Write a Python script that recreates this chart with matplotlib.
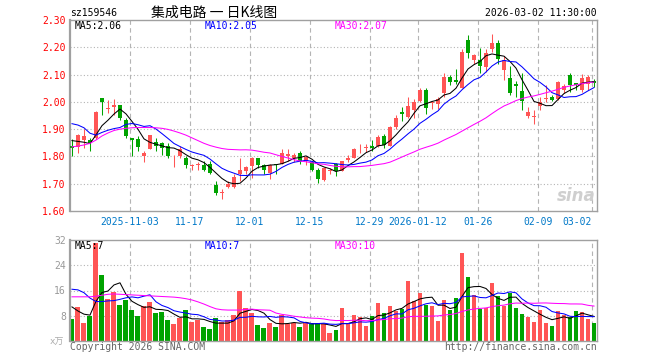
import numpy as np
import pandas as pd
import matplotlib
matplotlib.use('Agg')
import matplotlib.pyplot as plt

# date axis labels and the bar index each one sits on
date_labels = ['2025-11-03', '11-17', '12-01', '12-15', '12-29',
               '2026-01-12', '01-26', '02-09', '03-02']
date_idx = [10, 20, 30, 40, 50, 58, 68, 78, 87]

# daily OHLC (88 bars, 2025-10-20 .. 2026-03-02)
opens = [1.838, 1.834, 1.862, 1.860, 1.868, 2.015, 1.975, 1.982, 1.987, 1.932,
         1.868, 1.865, 1.800, 1.828, 1.852, 1.848, 1.838, 1.800, 1.801, 1.795,
         1.766, 1.768, 1.768, 1.773, 1.694, 1.665, 1.688, 1.688, 1.734, 1.746,
         1.765, 1.793, 1.768, 1.740, 1.771, 1.774, 1.800, 1.795, 1.813, 1.783,
         1.780, 1.749, 1.712, 1.748, 1.771, 1.748, 1.786, 1.795, 1.830, 1.831,
         1.837, 1.837, 1.876, 1.840, 1.908, 1.962, 1.945, 1.969, 2.004, 2.045,
         1.994, 1.991, 2.034, 2.092, 2.080, 2.049, 2.227, 2.153, 2.153, 2.126,
         2.193, 2.217, 2.117, 2.088, 2.065, 2.040, 1.947, 1.945, 1.984, 2.010,
         2.018, 2.009, 2.043, 2.098, 2.068, 2.043, 2.067, 2.075]
highs = [1.865, 1.883, 1.900, 1.868, 1.965, 2.015, 2.008, 2.012, 1.990, 1.941,
         1.868, 1.874, 1.820, 1.880, 1.868, 1.854, 1.850, 1.804, 1.838, 1.800,
         1.773, 1.780, 1.783, 1.783, 1.710, 1.680, 1.710, 1.737, 1.795, 1.765,
         1.797, 1.795, 1.771, 1.771, 1.773, 1.829, 1.828, 1.813, 1.820, 1.800,
         1.783, 1.756, 1.761, 1.758, 1.775, 1.785, 1.806, 1.830, 1.844, 1.846,
         1.861, 1.880, 1.881, 1.910, 1.951, 1.982, 2.018, 2.009, 2.049, 2.049,
         2.004, 2.016, 2.107, 2.098, 2.119, 2.193, 2.245, 2.175, 2.196, 2.193,
         2.249, 2.225, 2.168, 2.131, 2.077, 2.104, 1.982, 1.969, 2.018, 2.061,
         2.024, 2.076, 2.067, 2.104, 2.070, 2.102, 2.098, 2.082]
lows = [1.800, 1.813, 1.830, 1.820, 1.865, 1.951, 1.960, 1.951, 1.935, 1.868,
        1.800, 1.820, 1.780, 1.826, 1.820, 1.807, 1.795, 1.761, 1.795, 1.758,
        1.752, 1.752, 1.746, 1.737, 1.658, 1.643, 1.685, 1.685, 1.710, 1.734,
        1.722, 1.758, 1.737, 1.716, 1.734, 1.773, 1.783, 1.780, 1.773, 1.770,
        1.746, 1.704, 1.709, 1.737, 1.730, 1.746, 1.780, 1.793, 1.812, 1.816,
        1.820, 1.834, 1.832, 1.839, 1.902, 1.930, 1.942, 1.942, 2.000, 1.957,
        1.975, 1.972, 2.018, 2.061, 2.067, 2.049, 2.160, 2.139, 2.104, 2.110,
        2.184, 2.139, 2.080, 2.025, 2.018, 1.969, 1.942, 1.918, 1.969, 2.000,
        2.003, 2.006, 2.031, 2.037, 2.043, 2.037, 2.043, 2.055]
closes = [1.830, 1.878, 1.874, 1.850, 1.962, 2.000, 1.978, 1.987, 1.941, 1.874,
          1.862, 1.834, 1.811, 1.877, 1.840, 1.832, 1.801, 1.803, 1.828, 1.768,
          1.768, 1.771, 1.752, 1.740, 1.665, 1.668, 1.700, 1.726, 1.749, 1.761,
          1.793, 1.768, 1.752, 1.768, 1.767, 1.813, 1.810, 1.807, 1.783, 1.797,
          1.752, 1.716, 1.759, 1.750, 1.746, 1.782, 1.795, 1.826, 1.832, 1.833,
          1.832, 1.871, 1.842, 1.908, 1.942, 1.956, 1.985, 2.000, 2.045, 1.979,
          1.998, 2.012, 2.092, 2.074, 2.074, 2.184, 2.178, 2.172, 2.131, 2.180,
          2.217, 2.156, 2.153, 2.034, 2.058, 2.004, 1.963, 1.949, 2.000, 2.014,
          2.006, 2.074, 2.058, 2.061, 2.063, 2.086, 2.092, 2.070]
# volume in 万
volumes = [6.95, 10.9, 5.8, 8.0, 31.2, 20.9, 13.3, 15.4, 11.4, 13.0,
           9.8, 8.0, 11.1, 12.3, 9.0, 9.3, 6.6, 5.4, 7.2, 9.8,
           6.1, 6.6, 4.5, 3.8, 7.3, 6.1, 6.6, 8.2, 15.8, 10.3,
           9.0, 5.0, 4.0, 5.6, 4.4, 8.2, 5.5, 5.6, 4.5, 5.8,
           5.8, 5.8, 5.3, 2.6, 3.6, 10.4, 5.7, 8.1, 7.5, 4.9,
           7.8, 12.0, 8.9, 11.0, 9.6, 10.2, 18.9, 12.8, 15.2, 11.5,
           11.0, 6.2, 12.9, 9.9, 13.6, 27.9, 20.2, 14.5, 10.2, 10.4,
           18.4, 14.1, 11.2, 15.2, 10.6, 8.5, 7.5, 5.9, 9.9, 5.7,
           4.8, 9.6, 8.3, 7.5, 9.6, 9.2, 6.9, 5.7]

# moving averages for the first bars (window reaches before the chart)
ma5_head = [1.858, 1.855, 1.852, 1.847]
ma10_head = [1.920, 1.915, 1.905, 1.885, 1.878, 1.888, 1.896, 1.902, 1.906]
ma30_head = [1.835, 1.838, 1.842, 1.848, 1.860, 1.875, 1.886, 1.895, 1.900, 1.903,
             1.905, 1.906, 1.906, 1.906, 1.905, 1.903, 1.899, 1.893, 1.886, 1.878,
             1.868, 1.858, 1.848, 1.840, 1.834, 1.829, 1.826, 1.825, 1.824]
vma5_head = [10.8, 9.5, 8.5, 8.2]
vma10_head = [16.4, 16.2, 15.3, 13.6, 12.5, 12.5, 12.7, 12.8, 13.2]
vma30_head = [14.0, 14.0, 14.0, 14.0, 14.2, 14.5, 14.8, 14.9, 14.8, 14.7,
              14.6, 14.5, 14.4, 14.3, 14.2, 14.1, 14.0, 13.9, 13.7, 13.4,
              13.0, 12.4, 11.7, 10.9, 10.2, 9.9, 9.8, 9.8, 9.8]

price_ticks = [1.60, 1.70, 1.80, 1.90, 2.00, 2.10, 2.20, 2.30]
vol_ticks = [8, 16, 24, 32]


def moving_avg(vals, n, head):
    m = pd.Series(vals).rolling(n).mean().to_numpy()
    m[:n - 1] = head
    return m


RED = '#ff5555'
GREEN = '#00a300'
GRID = '#b4b4b4'
MONO = 'DejaVu Sans Mono'

o = np.array(opens)
h = np.array(highs)
l = np.array(lows)
c = np.array(closes)
v = np.array(volumes)
x = np.arange(len(c))
up = c >= o
cols = np.where(up, RED, GREEN)

fig = plt.figure(figsize=(6.6, 3.6), dpi=100)
W, H = 660.0, 360.0
ax1 = fig.add_axes([70 / W, 1 - 211 / H, 527 / W, 191 / H])
ax2 = fig.add_axes([70 / W, 1 - 341 / H, 527 / W, 101 / H])

for ax in (ax1, ax2):
    ax.set_xlim(-0.33, 87.5)
    for s in ax.spines.values():
        s.set_color('#a0a0a0')
        s.set_linewidth(1)
    ax.spines['left'].set_linewidth(1.6)
    for d in date_idx:
        ax.axvline(d - 0.33, color=GRID, lw=0.8, ls=(0, (4, 3)), zorder=0)
    ax.tick_params(length=0)

# price panel
for p in price_ticks[1:-1]:
    ax1.axhline(p, color=GRID, lw=0.8, ls=(0, (1, 2)), zorder=0)
ax1.vlines(x, l, h, colors=cols, lw=0.75, zorder=2)
body = np.maximum(np.abs(c - o), 0.0025)
ax1.bar(x, body, bottom=np.minimum(o, c), width=0.7, color=cols, zorder=3)

ax1.plot(x, moving_avg(c, 5, ma5_head), color='black', lw=0.75, zorder=4)
ax1.plot(x, moving_avg(c, 10, ma10_head), color='#0000ff', lw=0.75, zorder=4)
ax1.plot(x, moving_avg(c, 30, ma30_head), color='#ff00ff', lw=0.75, zorder=4)

ax1.set_ylim(1.60, 2.30)
ax1.set_yticks(price_ticks)
ax1.set_yticklabels(['%.2f' % p for p in price_ticks], color='#ff0000',
                    family=MONO, fontsize=7)
ax1.tick_params(axis='y', pad=3)
ax1.set_xticks([d - 0.33 for d in date_idx])
ax1.set_xticklabels(date_labels, color='#0078c8', family=MONO, fontsize=7)
ax1.tick_params(axis='x', pad=4)
ax1.get_xticklabels()[-1].set_ha('right')

ax1.text(5 / 527, 1 - 6 / 191, 'MA5:2.06', transform=ax1.transAxes, family=MONO,
         fontsize=7, color='black', va='center')
ax1.text(135 / 527, 1 - 6 / 191, 'MA10:2.05', transform=ax1.transAxes, family=MONO,
         fontsize=7, color='#0000ff', va='center')
ax1.text(265 / 527, 1 - 6 / 191, 'MA30:2.07', transform=ax1.transAxes, family=MONO,
         fontsize=7, color='#ff00ff', va='center')
ax1.text(0.997, 0.03, 'sina', transform=ax1.transAxes, fontsize=12,
         fontweight='bold', style='italic', color='#cfcfcf', ha='right', va='bottom')

# volume panel
for t in vol_ticks[:-1]:
    ax2.axhline(t, color=GRID, lw=0.8, ls=(0, (1, 2)), zorder=0)
ax2.bar(x, v, width=0.83, color=cols, zorder=2)
ax2.plot(x, moving_avg(v, 5, vma5_head), color='black', lw=0.75, zorder=4)
ax2.plot(x, moving_avg(v, 10, vma10_head), color='#0000ff', lw=0.75, zorder=4)
ax2.plot(x, moving_avg(v, 30, vma30_head), color='#ff00ff', lw=0.75, zorder=4)
ax2.set_ylim(0, 32)
ax2.set_yticks(vol_ticks)
ax2.set_yticklabels([str(t) for t in vol_ticks], color='#999999', family=MONO,
                    fontsize=7)
ax2.tick_params(axis='y', pad=3)
ax2.set_xticks([])

ax2.text(5 / 527, 1 - 6 / 101, 'MA5:7', transform=ax2.transAxes, family=MONO,
         fontsize=7, color='black', va='center')
ax2.text(135 / 527, 1 - 6 / 101, 'MA10:7', transform=ax2.transAxes, family=MONO,
         fontsize=7, color='#0000ff', va='center')
ax2.text(265 / 527, 1 - 6 / 101, 'MA30:10', transform=ax2.transAxes, family=MONO,
         fontsize=7, color='#ff00ff', va='center')

# header and footer text
fig.text(70 / W, 1 - 13 / H, 'sz159546', family=MONO, fontsize=7, va='center')
fig.text(214 / W, 1 - 13 / H, '集成电路 一 日K线图',
         family=['Noto Sans CJK SC', 'DejaVu Sans'], fontsize=10,
         ha='center', va='center')
fig.text(597 / W, 1 - 13 / H, '2026-03-02 11:30:00', family=MONO, fontsize=7,
         ha='right', va='center')
fig.text(64 / W, 1 - 342 / H, 'x万', family=[MONO, 'Noto Sans CJK SC'],
         fontsize=6.5, color='#aaaaaa', ha='right', va='center')
fig.text(70 / W, 1 - 347 / H, 'Copyright 2026 SINA.COM', family=MONO,
         fontsize=7, color='#666666', va='center')
fig.text(597 / W, 1 - 347 / H, 'http://finance.sina.com.cn', family=MONO,
         fontsize=7, color='#666666', ha='right', va='center')

fig.savefig('out.png', dpi=100, facecolor='white')
